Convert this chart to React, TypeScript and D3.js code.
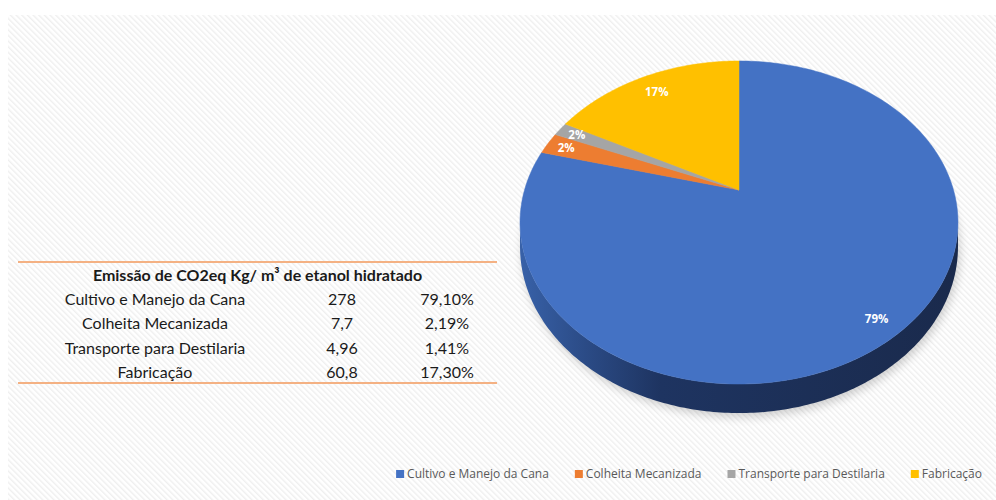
import React from "react";
import * as d3 from "d3";

const categories = ["Cultivo e Manejo da Cana", "Colheita Mecanizada", "Transporte para Destilaria", "Fabricação"];
const values = [278, 7.7, 4.96, 60.8];
const valueLabels = ["278", "7,7", "4,96", "60,8"];
const percentLabels = ["79,10%", "2,19%", "1,41%", "17,30%"];
const sliceLabels = ["79%", "2%", "2%", "17%"];
const tableTitle = "Emissão de CO2eq Kg/ m³ de etanol hidratado";

const colors = ["#4472c4", "#ed7d31", "#a5a5a5", "#ffc000"];
const labelRadius = [0.9, 0.9, 0.9, 0.85];

const W = 996;
const H = 500;

// pie projection params
const CX = 739;
const CY = 190;
const K = 0.2012;
const SX = 214.5;
const TY = 155;
const DEPTH = 23.2;

function proj(a: number, r: number): [number, number] {
  const u = r * Math.sin(a);
  const v = r * Math.cos(a);
  const den = 1 + K * v;
  return [CX + (SX * u) / den, CY - (TY * v) / den];
}
function depthAt(a: number): number {
  const v = Math.cos(a);
  return DEPTH / (1 + K * v);
}

function measure(text: string, font: string): number {
  const c = document.createElement("canvas");
  const ctx = c.getContext("2d");
  if (!ctx) return text.length * 6;
  ctx.font = font;
  return ctx.measureText(text).width;
}

export default function App() {
  const pie = d3.pie<number>().sort(null).startAngle(0).endAngle(2 * Math.PI);
  const arcs = pie(values);

  const slicePath = (s: number, e: number) => {
    const n = Math.max(4, Math.ceil(((e - s) * 180) / Math.PI));
    const pts: [number, number][] = [[CX, CY]];
    for (let i = 0; i <= n; i++) pts.push(proj(s + ((e - s) * i) / n, 1));
    return d3.line()(pts) + "Z";
  };

  // side wall (front part)
  const aR = Math.acos(-K);
  const aL = 2 * Math.PI - Math.acos(-K);
  const sideTop: [number, number][] = [];
  const nSide = 200;
  for (let i = 0; i <= nSide; i++) sideTop.push(proj(aR + ((aL - aR) * i) / nSide, 1));
  const sideBot: [number, number][] = [];
  for (let i = nSide; i >= 0; i--) {
    const a = aR + ((aL - aR) * i) / nSide;
    const p = proj(a, 1);
    sideBot.push([p[0], p[1] + depthAt(a)]);
  }
  const sidePath = d3.line()([...sideTop, ...sideBot]) + "Z";

  // full outline for shadow
  const outline: [number, number][] = [];
  for (let i = 0; i <= 360; i++) {
    const a = (i / 360) * 2 * Math.PI;
    const p = proj(a, 1);
    outline.push([p[0], p[1] + depthAt(a)]);
  }
  const outlinePath = d3.line()(outline) + "Z";

  // table layout
  const tableX0 = 18;
  const tableX1 = 497;
  const lineTop = 262;
  const titleY = 275;
  const rowY = d3.scaleLinear().domain([0, 3]).range([299.5, 372.5]);
  const lineBottom = 383;
  const colX = [155, 342, 447];
  const tableFont = "Lato, 'Open Sans', sans-serif";
  const tableSize = 16;

  // legend layout
  const legFontSize = 12;
  const legFont = `${legFontSize}px 'Open Sans'`;
  const marker = 8;
  const gapMT = 3;
  const itemGap = 26;
  const widths = categories.map((c) => measure(c, legFont));
  const totalW = widths.reduce((s, w) => s + marker + gapMT + w, 0) + itemGap * (categories.length - 1);
  const legRight = 982;
  let lx = legRight - totalW;
  const legY = 474;
  const legendItems = categories.map((c, i) => {
    const x = lx;
    lx += marker + gapMT + widths[i] + itemGap;
    return { c, x, i };
  });

  return (
    <svg
      width={W}
      height={H}
      style={{ position: "absolute", left: 0, top: 0 }}
      xmlns="http://www.w3.org/2000/svg"
    >
      <defs>
        <pattern id="hatch" width="4" height="4" patternUnits="userSpaceOnUse" patternTransform="rotate(-45)">
          <rect width="4" height="4" fill="#ffffff" />
          <rect width="1.4" height="4" fill="#efefef" />
        </pattern>
        <linearGradient id="sideGrad" gradientUnits="userSpaceOnUse" x1={520} y1={0} x2={958} y2={0}>
          <stop offset="0" stopColor="#3861a8" />
          <stop offset="0.15" stopColor="#2b4b86" />
          <stop offset="0.32" stopColor="#1e3461" />
          <stop offset="1" stopColor="#1a2a4c" />
        </linearGradient>
        <filter id="shadowBlur" x="-20%" y="-20%" width="140%" height="140%">
          <feGaussianBlur stdDeviation="5" />
        </filter>
      </defs>

      <rect x={8} y={15} width={W - 8} height={H - 15} fill="url(#hatch)" />

      {/* shadow */}
      <path d={outlinePath} fill="#000" opacity={0.18} filter="url(#shadowBlur)" transform="translate(2,4)" />

      {/* side wall */}
      <path d={sidePath} fill="url(#sideGrad)" />

      {/* top slices */}
      {arcs.map((a, i) => (
        <path key={i} d={slicePath(a.startAngle, a.endAngle)} fill={colors[i]} stroke={colors[i]} strokeWidth={0.5} />
      ))}

      {/* slice labels */}
      {arcs.map((a, i) => {
        const [x, y] = proj((a.startAngle + a.endAngle) / 2, labelRadius[i]);
        return (
          <text
            key={i}
            x={x}
            y={y}
            dy="0.35em"
            textAnchor="middle"
            fill="#ffffff"
            fontFamily="'Open Sans', sans-serif"
            fontWeight="bold"
            fontSize={11.5}
          >
            {sliceLabels[i]}
          </text>
        );
      })}

      {/* table */}
      <line x1={tableX0} x2={tableX1} y1={lineTop} y2={lineTop} stroke="#f4b183" strokeWidth={2} />
      <line x1={tableX0} x2={tableX1} y1={lineBottom} y2={lineBottom} stroke="#f4b183" strokeWidth={2} />
      <text
        x={(tableX0 + tableX1) / 2}
        y={titleY}
        dy="0.35em"
        textAnchor="middle"
        fontFamily={tableFont}
        fontWeight="bold"
        fontSize={tableSize}
        fill="#1a1a1a"
      >
        {tableTitle}
      </text>
      {categories.map((c, i) => (
        <g key={i} fontFamily={tableFont} fontSize={tableSize} fill="#1a1a1a" textAnchor="middle">
          <text x={colX[0]} y={rowY(i)} dy="0.35em">
            {c}
          </text>
          <text x={colX[1]} y={rowY(i)} dy="0.35em">
            {valueLabels[i]}
          </text>
          <text x={colX[2]} y={rowY(i)} dy="0.35em">
            {percentLabels[i]}
          </text>
        </g>
      ))}

      {/* legend */}
      {legendItems.map(({ c, x, i }) => (
        <g key={i}>
          <rect x={x} y={legY - marker / 2} width={marker} height={marker} fill={colors[i]} />
          <text
            x={x + marker + gapMT}
            y={legY}
            dy="0.35em"
            fontFamily="'Open Sans', sans-serif"
            fontSize={legFontSize}
            fill="#595959"
          >
            {c}
          </text>
        </g>
      ))}
    </svg>
  );
}
